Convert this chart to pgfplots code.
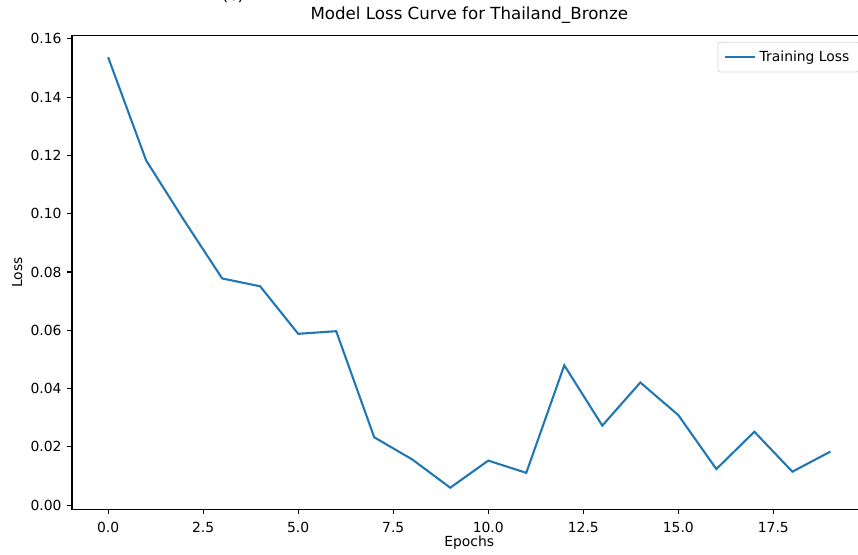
\documentclass[border=0pt]{standalone}
\usepackage{fontspec}
\setmainfont{DejaVu Sans}
\usepackage{pgfplots}
\pgfplotsset{compat=1.18}
\definecolor{mplblue}{HTML}{1F77B4}
\definecolor{legframe}{HTML}{D6D6D6}
\begin{document}
\begin{tikzpicture}[font=\fontsize{10}{12}\selectfont]
\useasboundingbox (0,0) rectangle (617.76pt,398.88pt);
\clip (0,0) rectangle (617.76pt,398.88pt);
\node[anchor=south,inner sep=0pt,font=\fontsize{12}{14}\selectfont] at (167.8pt,396.7pt) {(c)};
\begin{axis}[
  at={(51.84pt,32.2pt)}, anchor=south west,
  scale only axis, width=572.04pt, height=340.8pt,
  xmin=-0.95, xmax=19.95, ymin=-0.0014, ymax=0.161,
  axis line style={line width=0.8pt, black},
  tick style={line width=0.8pt, black},
  tick align=outside, tick pos=lower, major tick length=3.5pt,
  xtick={0,2.5,5,7.5,10,12.5,15,17.5},
  ytick={0,0.02,0.04,0.06,0.08,0.10,0.12,0.14,0.16},
  scaled y ticks=false,
  /pgf/number format/assume math mode=true,
  xticklabel style={/pgf/number format/fixed, /pgf/number format/fixed zerofill, /pgf/number format/precision=1},
  yticklabel style={/pgf/number format/fixed, /pgf/number format/fixed zerofill, /pgf/number format/precision=2},
  x tick label style={inner sep=0pt, anchor=north, font=\fontsize{10}{12}\selectfont},
  y tick label style={inner sep=0pt, anchor=east, font=\fontsize{10}{12}\selectfont},
  xticklabel shift=5.4pt, yticklabel shift=3.9pt,
  title={Model Loss Curve for Thailand\_Bronze},
  title style={at={(rel axis cs:0.5,1)}, anchor=base, yshift=5.5pt, inner sep=0pt, font=\fontsize{12}{14}\selectfont},
  xlabel={Epochs},
  xlabel style={at={(rel axis cs:0.5,0)}, anchor=north, yshift=-19pt, inner sep=0pt, font=\fontsize{10}{12}\selectfont},
  ylabel={Loss},
  ylabel style={at={(axis description cs:-0.0621,0.5)}, anchor=south, inner sep=0pt, font=\fontsize{10}{12}\selectfont},
  legend style={at={(rel axis cs:1,1)}, anchor=north east, xshift=-5pt, yshift=-4.2pt,
    draw=legframe, line width=0.6pt, rounded corners=2pt, fill=white,
    inner xsep=4.5pt, inner ysep=3.7pt, font=\fontsize{10}{12}\selectfont,
    nodes={inner sep=2.5pt}},
  legend image code/.code={\draw[#1] (0pt,0pt) -- (21.6pt,0pt);},
  legend cell align=left,
]
\addplot[mplblue, line width=1.5pt] coordinates {
(0,0.1537) (1,0.1183) (2,0.0977) (3,0.0778) (4,0.0751) (5,0.0588) (6,0.0597)
(7,0.0233) (8,0.0157) (9,0.0060) (10,0.0153) (11,0.0111) (12,0.0480)
(13,0.0273) (14,0.0421) (15,0.0309) (16,0.0124) (17,0.0252) (18,0.0115) (19,0.0184)
};
\addlegendentry{Training Loss}
\end{axis}
\end{tikzpicture}
\end{document}
